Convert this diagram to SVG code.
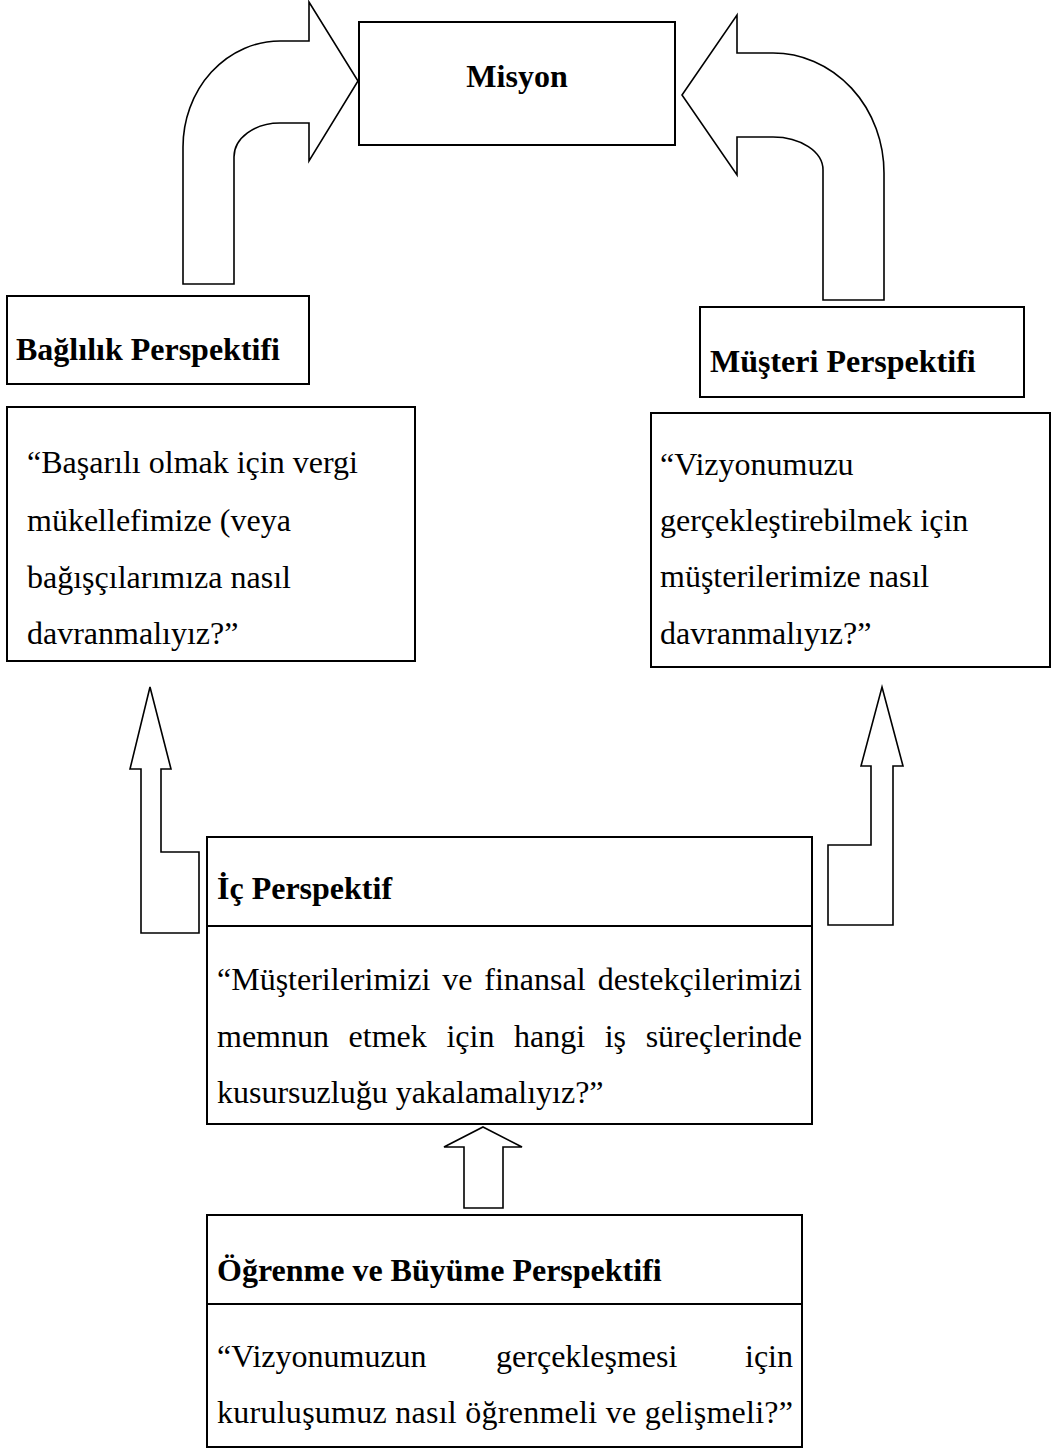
<svg xmlns="http://www.w3.org/2000/svg" width="1052" height="1448" viewBox="0 0 1052 1448">
  <style>
    .box { fill: #ffffff; stroke: #000000; stroke-width: 2; }
    .div { stroke: #000000; stroke-width: 2; }
    .arrow { fill: #ffffff; stroke: #000000; stroke-width: 1.6; stroke-linejoin: miter; }
    .t { font-family: "Liberation Serif", "Times New Roman", serif; font-size: 32px; fill: #000000; }
    .b { font-weight: bold; }
    .end { text-anchor: end; }
  </style>
  <rect width="1052" height="1448" fill="#ffffff"/>

  <!-- connectors: block arrows between the perspectives -->
  <g id="connectors">
    <path id="arrow-baglilik-misyon" class="arrow" d="M183,284 L183,147 A97,106 0 0 1 280,41 L309,41 L309,2 L358,81 L309,161 L309,123 L280,123 A46,34 0 0 0 234,157 L234,284 Z"/>
    <path id="arrow-musteri-misyon" class="arrow" d="M884,300 L884,173 A111,120 0 0 0 773,53 L737,53 L737,15 L682,95 L737,175 L737,137 L773,137 A50,33 0 0 1 823,170 L823,300 Z"/>
    <polygon id="arrow-ic-baglilik" class="arrow" points="150,687 171,769 161,769 161,852 199,852 199,933 141,933 141,769 130,769"/>
    <polygon id="arrow-ic-musteri" class="arrow" points="882,687 903,766 893,766 893,925 828,925 828,845 871,845 871,766 861,766"/>
    <polygon id="arrow-ogrenme-ic" class="arrow" points="483,1127 522,1147 503,1147 503,1208 464,1208 464,1147 444,1147"/>
  </g>

  <!-- Misyon -->
  <g id="misyon">
    <rect class="box" x="359" y="22" width="316" height="123"/>
    <text class="t b" x="517" y="87" text-anchor="middle">Misyon</text>
  </g>

  <!-- Bağlılık perspektifi -->
  <g id="baglilik">
    <rect class="box" x="7" y="296" width="302" height="88"/>
    <text class="t b" x="16" y="360">Bağlılık Perspektifi</text>
  </g>
  <g id="baglilik-soru">
    <rect class="box" x="7" y="407" width="408" height="254"/>
    <text class="t" x="27" y="473">“Başarılı olmak için vergi</text>
    <text class="t" x="27" y="531">mükellefimize (veya</text>
    <text class="t" x="27" y="588">bağışçılarımıza nasıl</text>
    <text class="t" x="27" y="644">davranmalıyız?”</text>
  </g>

  <!-- Müşteri perspektifi -->
  <g id="musteri">
    <rect class="box" x="700" y="307" width="324" height="90"/>
    <text class="t b" x="710" y="372">Müşteri Perspektifi</text>
  </g>
  <g id="musteri-soru">
    <rect class="box" x="651" y="413" width="399" height="254"/>
    <text class="t" x="660" y="475">“Vizyonumuzu</text>
    <text class="t" x="660" y="531">gerçekleştirebilmek için</text>
    <text class="t" x="660" y="587">müşterilerimize nasıl</text>
    <text class="t" x="660" y="644">davranmalıyız?”</text>
  </g>

  <!-- İç perspektif -->
  <g id="ic">
    <rect class="box" x="207" y="837" width="605" height="287"/>
    <line class="div" x1="207" y1="926" x2="812" y2="926"/>
    <text class="t b" x="217" y="899">İç Perspektif</text>
    <text class="t" y="990"><tspan x="217">“Müşterilerimizi</tspan><tspan x="442.2">ve</tspan><tspan x="484.3">finansal</tspan></text>
    <text class="t end" x="802" y="990">destekçilerimizi</text>
    <text class="t" y="1047"><tspan x="217">memnun</tspan><tspan x="348.6">etmek</tspan><tspan x="446.4">için</tspan><tspan x="514">hangi</tspan><tspan x="604.7">iş</tspan></text>
    <text class="t end" x="802" y="1047">süreçlerinde</text>
    <text class="t" x="217" y="1103">kusursuzluğu yakalamalıyız?”</text>
  </g>

  <!-- Öğrenme ve büyüme perspektifi -->
  <g id="ogrenme">
    <rect class="box" x="207" y="1215" width="595" height="232"/>
    <line class="div" x1="207" y1="1304" x2="802" y2="1304"/>
    <text class="t b" x="217" y="1281">Öğrenme ve Büyüme Perspektifi</text>
    <text class="t" y="1367"><tspan x="217">“Vizyonumuzun</tspan><tspan x="496.1">gerçekleşmesi</tspan></text>
    <text class="t end" x="793" y="1367">için</text>
    <text class="t" x="217" y="1423" textLength="576" lengthAdjust="spacing">kuruluşumuz nasıl öğrenmeli ve gelişmeli?”</text>
  </g>
</svg>
